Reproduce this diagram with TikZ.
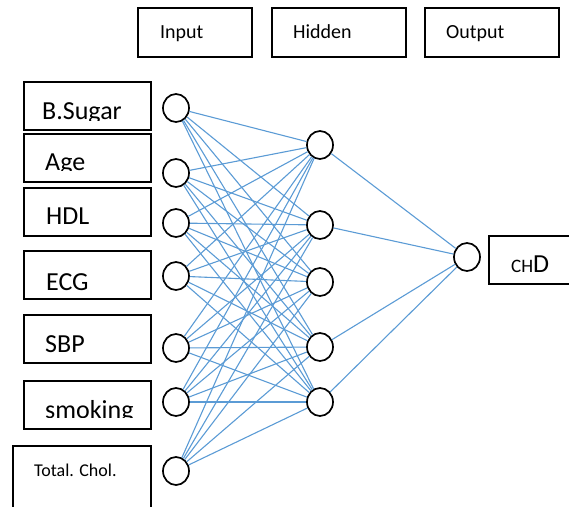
\documentclass[tikz,border=0pt]{standalone}
\usepackage{fontspec}
\setmainfont{Carlito}
\usepackage{xcolor}
\definecolor{wireblue}{RGB}{91,155,213}

\tikzset{
  frame/.style={draw=black, line width=1.6pt, rectangle, inner sep=0pt},
  unit/.style={draw=black, line width=1.7pt, ellipse, minimum width=26pt, minimum height=28pt, inner sep=0pt},
  wire/.style={color=wireblue, line width=1.1pt},
  lbl/.style={anchor=base west, inner sep=0pt, font=\fontsize{26}{30}\selectfont},
  head/.style={anchor=base west, inner sep=0pt, font=\fontsize{20}{24}\selectfont},
}
\usetikzlibrary{shapes.geometric}

\begin{document}
\begin{tikzpicture}[x=1pt, y=-1pt]
    \useasboundingbox (0,0) rectangle (569,506);
    \clip (0,0) rectangle (569,506);

    % header boxes
    \node[frame, minimum width=114pt, minimum height=49pt] (inbox) at (195,32.5) {};
    \node[frame, minimum width=134pt, minimum height=49pt] (hidbox) at (339,32.5) {};
    \node[frame, minimum width=134pt, minimum height=49pt] (outbox) at (492,32.5) {};
    \node[head] (intxt) at (160,38) {Input};
    \node[head] (hidtxt) at (293,38) {Hidden};
    \node[head] (outtxt) at (446,38) {Output};

    % feature boxes
    \node[frame, minimum width=127pt, minimum height=48pt] (fsugar) at (87.5,106) {};
    \node[frame, minimum width=127pt, minimum height=48pt] (fage) at (87.5,158) {};
    \node[frame, minimum width=127pt, minimum height=48pt] (fhdl) at (87.5,212) {};
    \node[frame, minimum width=127pt, minimum height=48pt] (fecg) at (87.5,275) {};
    \node[frame, minimum width=127pt, minimum height=48pt] (fsbp) at (87.5,339) {};
    \node[frame, minimum width=127pt, minimum height=48pt] (fsmoke) at (87.5,405) {};
    \node[frame, minimum width=138pt, minimum height=84pt] (fchol) at (82,488) {};

    % text overflows the boxes and is cut off
    \begin{scope}
        \clip (24,82) rectangle (151,120.5) (24,134) rectangle (151,170.5)
              (24,188) rectangle (151,236) (24,251) rectangle (151,290.5)
              (24,315) rectangle (151,363) (24,381) rectangle (151,417.5)
              (13,446) rectangle (151,506);
        \node[lbl] (tsugar) at (42,119.5) {B.Sugar};
        \node[lbl] (tage) at (45,170) {Age};
        \node[lbl] (thdl) at (46,224) {HDL};
        \node[lbl] (tecg) at (46,290) {ECG};
        \node[lbl] (tsbp) at (45,352) {SBP};
        \node[lbl] (tsmoke) at (45,418) {smoking};
        \node[lbl, font=\fontsize{18}{22}\selectfont] (tchol) at (34,476) {Total. Chol.};
    \end{scope}

    % units
    \foreach \i/\y in {1/108,2/173,3/223,4/276,5/348,6/402,7/471}
        \node[unit] (in\i) at (176,\y) {};
    \foreach \j/\y in {1/145,2/225,3/282,4/347,5/402}
        \node[unit] (hid\j) at (320,\y) {};
    \node[unit] (out) at (467,257) {};

    \node[frame, minimum width=92pt, minimum height=48pt] (chdbox) at (535,260) {};
    \node[anchor=base west, inner sep=0pt] (chd) at (511,272)
        {{\fontsize{19}{19}\selectfont CH}\fontsize{26}{26}\selectfont D};

    % weights
    \foreach \i in {1,...,7}
        \foreach \j in {1,...,5}
            \draw[wire] (in\i) -- (hid\j);
    \foreach \j in {1,2,4,5}
        \draw[wire] (hid\j) -- (out);

\end{tikzpicture}
\end{document}
